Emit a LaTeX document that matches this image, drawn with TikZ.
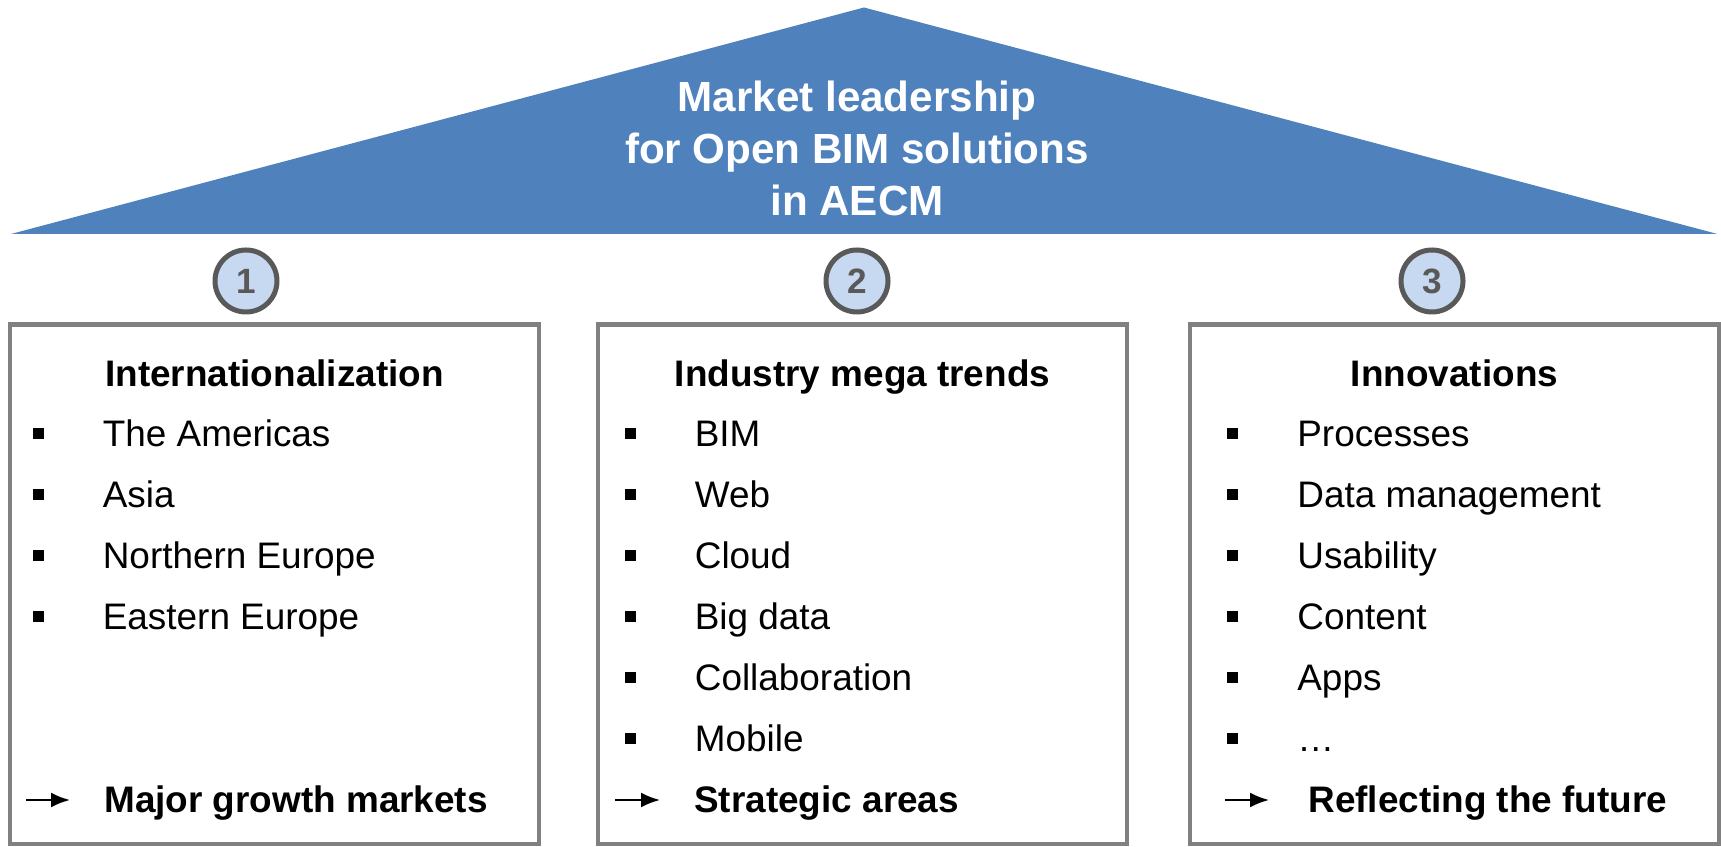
\documentclass[tikz,border=0pt]{standalone}
\usepackage{fontspec}
\setmainfont{Liberation Sans}
\usetikzlibrary{arrows.meta}
\definecolor{roofblue}{HTML}{4F81BD}
\definecolor{badgefill}{HTML}{C6D9F1}
\definecolor{badgeline}{HTML}{595959}
\definecolor{pillarline}{HTML}{808080}
% square bullet plus the gap up to the item text
\newcommand{\blt}{\rule[0.16cm]{0.22cm}{0.22cm}\hspace{1.18cm}}

\begin{document}
\begin{tikzpicture}[
  pillar/.style={draw=pillarline, line width=0.09cm, minimum width=10.58cm,
    minimum height=10.39cm, inner sep=0},
  badge/.style={circle, draw=badgeline, fill=badgefill, line width=0.1cm,
    minimum size=1.24cm, inner sep=0, text=badgeline,
    font=\fontsize{20}{24}\selectfont\bfseries},
  head/.style={anchor=base, inner sep=0, font=\fontsize{21}{25}\selectfont\bfseries},
  item/.style={anchor=base west, inner sep=0, font=\fontsize{21}{25}\selectfont},
  result/.style={item, font=\fontsize{21}{25}\selectfont\bfseries},
  leadsto/.style={-{Latex[length=0.38cm,width=0.3cm]}, line width=0.045cm}]
  \useasboundingbox (0,0) rectangle (34.42,16.92);

  % roof
  \fill[roofblue] (0.22,12.24) -- (17.28,16.77) -- (34.35,12.24) -- cycle;
  \node[text=white, align=center, inner sep=0,
    font=\fontsize{24}{29.5}\selectfont\bfseries] (goal) at (17.14,13.95)
    {Market leadership\\for Open BIM solutions\\in AECM};

  % pillars
  \node[pillar] (pil1) at (5.49,5.235) {};
  \node[pillar] (pil2) at (17.25,5.235) {};
  \node[pillar] (pil3) at (29.09,5.235) {};

  \node[badge] (num1) at (4.92,11.30) {1};
  \node[badge] (num2) at (17.14,11.30) {2};
  \node[badge] (num3) at (28.64,11.30) {3};

  % pillar 1
  \node[head] (head1) at (5.49,9.18) {Internationalization};
  \node[item] (p1a) at (0.65,7.98) {\blt The Americas};
  \node[item] (p1b) at (0.65,6.76) {\blt Asia};
  \node[item] (p1c) at (0.65,5.54) {\blt Northern Europe};
  \node[item] (p1d) at (0.65,4.32) {\blt Eastern Europe};
  \coordinate (go1s) at (0.52,0.92);
  \coordinate (go1e) at (1.40,0.92);
  \draw[leadsto] (go1s) -- (go1e);
  \node[result] (res1) at (2.08,0.66) {Major growth markets};

  % pillar 2
  \node[head] (head2) at (17.25,9.18) {Industry mega trends};
  \node[item] (p2a) at (12.49,7.98) {\blt BIM};
  \node[item] (p2b) at (12.49,6.76) {\blt Web};
  \node[item] (p2c) at (12.49,5.54) {\blt Cloud};
  \node[item] (p2d) at (12.49,4.32) {\blt Big data};
  \node[item] (p2e) at (12.49,3.10) {\blt Collaboration};
  \node[item] (p2f) at (12.49,1.88) {\blt Mobile};
  \coordinate (go2s) at (12.30,0.92);
  \coordinate (go2e) at (13.20,0.92);
  \draw[leadsto] (go2s) -- (go2e);
  \node[result] (res2) at (13.88,0.66) {Strategic areas};

  % pillar 3
  \node[head] (head3) at (29.09,9.18) {Innovations};
  \node[item] (p3a) at (24.54,7.98) {\blt Processes};
  \node[item] (p3b) at (24.54,6.76) {\blt Data management};
  \node[item] (p3c) at (24.54,5.54) {\blt Usability};
  \node[item] (p3d) at (24.54,4.32) {\blt Content};
  \node[item] (p3e) at (24.54,3.10) {\blt Apps};
  \node[item] (p3f) at (24.54,1.88) {\blt …};
  \coordinate (go3s) at (24.50,0.92);
  \coordinate (go3e) at (25.38,0.92);
  \draw[leadsto] (go3s) -- (go3e);
  \node[result] (res3) at (26.16,0.66) {Reflecting the future};
\end{tikzpicture}
\end{document}
